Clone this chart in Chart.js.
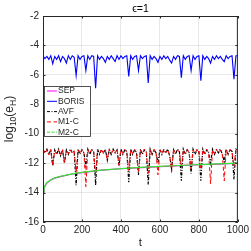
<!DOCTYPE html>
<html>
<head>
<meta charset="utf-8">
<script src="https://cdn.jsdelivr.net/npm/chart.js@4.4.0/dist/chart.umd.min.js"></script>
<style>
  html, body { margin: 0; padding: 0; background: #fff; }
  #wrap { width: 251px; height: 251px; }
</style>
</head>
<body>
<div id="wrap"><canvas id="chart" width="251" height="251"></canvas></div>
<script>
// ---- data ----
const tGrid = [0,10,20,30,40,50,60,70,80,90,100,110,120,130,140,150,160,170,180,190,
  200,210,220,230,240,250,260,270,280,290,300,310,320,330,340,350,360,370,380,390,
  400,410,420,430,440,450,460,470,480,490,500,510,520,530,540,550,560,570,580,590,
  600,610,620,630,640,650,660,670,680,690,700,710,720,730,740,750,760,770,780,790,
  800,810,820,830,840,850,860,870,880,890,900,910,920,930,940,950,960,970,980,990,1000];

const boris = [-4.7,-4.9,-4.75,-4.95,-4.7,-5.25,-4.75,-4.95,-4.7,-5.1,
  -4.75,-4.9,-5.2,-4.7,-4.95,-4.7,-4.8,-6.05,-4.7,-4.95,
  -4.75,-4.7,-5.7,-4.7,-4.95,-4.7,-4.75,-6.9,-4.7,-4.95,
  -4.75,-4.9,-5.15,-4.75,-4.95,-4.7,-4.9,-5.1,-4.7,-4.95,
  -4.7,-4.9,-4.75,-4.7,-6.1,-4.7,-4.95,-4.75,-4.7,-5.7,
  -4.7,-4.9,-4.75,-4.7,-6.55,-4.7,-4.95,-4.75,-4.9,-5.15,
  -4.75,-4.95,-4.7,-4.9,-4.75,-5.0,-5.2,-4.75,-4.95,-4.7,
  -4.75,-6.2,-4.7,-4.95,-4.75,-4.7,-5.7,-4.7,-4.95,-4.75,
  -4.7,-6.4,-4.7,-4.95,-4.75,-4.9,-5.2,-4.75,-4.95,-4.7,
  -4.9,-4.75,-4.95,-5.1,-4.7,-4.9,-4.75,-4.7,-6.3,-4.7,-4.7];

const avf = [-11.1,-11.3,-11.05,-11.4,-11.1,-12.2,-11.1,-11.4,-11.05,-11.5,
  -11.1,-12.0,-11.1,-11.4,-11.05,-11.3,-11.2,-13.5,-11.05,-11.4,
  -11.1,-11.3,-12.2,-11.05,-11.4,-11.1,-11.2,-13.5,-11.05,-11.4,
  -11.1,-11.3,-11.05,-11.8,-11.1,-11.4,-11.05,-11.3,-11.1,-12.2,
  -11.05,-11.4,-11.1,-11.2,-13.3,-11.05,-11.4,-11.1,-11.3,-12.8,
  -11.05,-11.4,-11.1,-11.2,-13.45,-11.05,-11.4,-11.1,-11.3,-12.0,
  -11.05,-11.4,-11.1,-11.3,-11.05,-11.5,-12.4,-11.1,-11.4,-11.05,
  -11.2,-13.2,-11.05,-11.4,-11.1,-11.3,-12.7,-11.05,-11.4,-11.1,
  -11.2,-13.2,-11.05,-11.4,-11.1,-11.3,-12.0,-11.05,-11.4,-11.1,
  -11.3,-11.05,-11.4,-11.9,-11.05,-11.4,-11.1,-11.2,-13.1,-11.05,-11.1];

const m1c = [-11.05,-11.35,-11.1,-11.45,-11.05,-12.15,-11.15,-11.35,-11.1,-11.45,
  -11.05,-11.95,-11.15,-11.35,-11.1,-11.3,-11.15,-12.7,-11.1,-11.35,
  -11.05,-11.3,-13.6,-11.1,-11.35,-11.05,-11.25,-12.8,-11.1,-11.35,
  -11.05,-11.35,-11.1,-11.75,-11.05,-11.35,-11.1,-11.3,-11.05,-12.15,
  -11.1,-11.35,-11.05,-11.25,-12.5,-11.1,-11.35,-11.05,-11.3,-12.6,
  -11.1,-11.35,-11.05,-11.25,-12.7,-11.1,-11.35,-11.05,-11.3,-12.8,
  -11.1,-11.35,-11.05,-11.3,-11.1,-11.45,-12.6,-11.05,-11.35,-11.1,
  -11.25,-12.3,-11.1,-11.35,-11.05,-11.3,-12.4,-11.1,-11.35,-11.05,
  -11.25,-12.4,-11.1,-11.35,-11.05,-11.3,-13.4,-11.1,-11.35,-11.05,
  -11.3,-11.1,-11.35,-13.2,-11.1,-11.35,-11.05,-11.25,-12.2,-11.1,-11.05];

const tDrift = [0,5,10,20,40,60,100,150,200,300,400,500,600,700,800,900,1000];
const sep = [-14.0,-13.75,-13.55,-13.35,-13.15,-13.02,-12.88,-12.74,-12.64,-12.48,-12.38,-12.3,-12.23,-12.17,-12.11,-12.06,-12.0];
const m2c = [-14.0,-13.72,-13.52,-13.33,-13.13,-13.0,-12.86,-12.73,-12.63,-12.47,-12.37,-12.29,-12.22,-12.16,-12.1,-12.05,-12.0];

const yTicks = [-16,-14,-12,-10,-8,-6,-4,-2];
const xTicks = [0,200,400,600,800,1000];

const legendNames = ['SEP','BORIS','AVF','M1-C','M2-C'];

// ---- helpers ----
function pts(xs, ys) {
    return xs.map((x, i) => ({ x: x, y: ys[i] }));
}

const FONT = '"Liberation Sans", Arial, sans-serif';
const AXIS = '#262626';

const styles = {
    'SEP':   { color: '#ff00ff', dash: [] },
    'BORIS': { color: '#0000ff', dash: [] },
    'AVF':   { color: '#000000', dash: [3, 1.5, 1, 1.5] },
    'M1-C':  { color: '#ff0000', dash: [4, 2.5] },
    'M2-C':  { color: '#33e633', dash: [3, 1.5] }
};

// ---- frame, ticks, titles, legend ----
const framePlugin = {
    id: 'frame',
    afterDraw(chart) {
        const ctx = chart.ctx;
        const a = chart.chartArea;
        const xs = chart.scales.x, ys = chart.scales.y;
        ctx.save();
        ctx.strokeStyle = AXIS;
        ctx.lineWidth = 1;
        ctx.strokeRect(a.left + 0.5, a.top + 0.5, a.right - a.left - 1, a.bottom - a.top - 1);

        // inward ticks on all sides
        ctx.beginPath();
        xTicks.forEach(v => {
            const px = Math.round(xs.getPixelForValue(v)) + 0.5;
            ctx.moveTo(px, a.bottom); ctx.lineTo(px, a.bottom - 2.5);
            ctx.moveTo(px, a.top); ctx.lineTo(px, a.top + 2.5);
        });
        yTicks.forEach(v => {
            const py = Math.round(ys.getPixelForValue(v)) + 0.5;
            ctx.moveTo(a.left, py); ctx.lineTo(a.left + 2.5, py);
            ctx.moveTo(a.right, py); ctx.lineTo(a.right - 2.5, py);
        });
        ctx.stroke();

        // title
        ctx.fillStyle = '#000';
        ctx.textAlign = 'center';
        ctx.textBaseline = 'middle';
        ctx.font = '10.5px ' + FONT;
        ctx.fillText('\u03f5=1', (a.left + a.right) / 2, 9);

        // x label
        ctx.fillStyle = AXIS;
        ctx.font = '11.5px ' + FONT;
        ctx.fillText('t', (a.left + a.right) / 2, 243);

        // y label with subscripts
        ctx.translate(9, (a.top + a.bottom) / 2);
        ctx.rotate(-Math.PI / 2);
        ctx.textBaseline = 'alphabetic';
        const parts = [['log', 12, 0], ['10', 8.5, 3], ['(e', 12, 0], ['H', 8.5, 3], [')', 12, 0]];
        let total = 0;
        parts.forEach(p => { ctx.font = p[1] + 'px ' + FONT; total += ctx.measureText(p[0]).width; });
        let cx = -total / 2;
        ctx.textAlign = 'left';
        parts.forEach(p => {
            ctx.font = p[1] + 'px ' + FONT;
            ctx.fillText(p[0], cx, 4 + p[2]);
            cx += ctx.measureText(p[0]).width;
        });
        ctx.restore();

        // legend box
        ctx.save();
        const bx = a.left + 1, by = 86, bw = 47, bh = 51;
        ctx.fillStyle = '#fff';
        ctx.fillRect(bx, by, bw, bh);
        ctx.strokeStyle = AXIS;
        ctx.lineWidth = 0.8;
        ctx.strokeRect(bx + 0.5, by + 0.5, bw - 1, bh - 1);
        ctx.font = '8.5px ' + FONT;
        ctx.textAlign = 'left';
        ctx.textBaseline = 'middle';
        legendNames.forEach((name, i) => {
            const y = by + 5 + i * 10.3;
            const s = styles[name];
            ctx.strokeStyle = s.color;
            ctx.lineWidth = 1;
            ctx.setLineDash(s.dash);
            ctx.beginPath();
            ctx.moveTo(bx + 3, y); ctx.lineTo(bx + 13, y);
            ctx.stroke();
            ctx.setLineDash([]);
            ctx.fillStyle = AXIS;
            ctx.fillText(name, bx + 14, y);
        });
        ctx.restore();
    }
};

function series(label, data, width, plotDash) {
    return {
        label: label,
        data: data,
        borderColor: styles[label].color,
        borderWidth: width,
        borderDash: plotDash,
        pointRadius: 0,
        tension: 0,
        fill: false
    };
}

// dataset 0 is painted last (on top), so list them top-first
new Chart(document.getElementById('chart'), {
    type: 'line',
    data: {
        datasets: [
            series('M2-C', pts(tDrift, m2c), 1.2, []),
            series('M1-C', pts(tGrid, m1c), 1, styles['M1-C'].dash),
            series('AVF', pts(tGrid, avf), 1.2, styles['AVF'].dash),
            series('BORIS', pts(tGrid, boris), 1.1, []),
            series('SEP', pts(tDrift, sep), 1.2, [])
        ]
    },
    options: {
        responsive: false,
        animation: false,
        events: [],
        layout: { padding: { top: 16, right: 13, left: 0, bottom: 0 } },
        plugins: { legend: { display: false }, tooltip: { enabled: false }, title: { display: false } },
        scales: {
            x: {
                type: 'linear',
                min: 0, max: 1000,
                afterFit(scale) { scale.height = 29; },
                afterBuildTicks(scale) { scale.ticks = xTicks.map(v => ({ value: v })); },
                ticks: {
                    color: AXIS, font: { family: FONT, size: 10 }, padding: 2, maxRotation: 0,
                    callback: v => String(v)
                },
                grid: { color: 'rgba(0,0,0,0.09)', drawTicks: false },
                border: { display: false }
            },
            y: {
                type: 'linear',
                min: -16, max: -2,
                afterFit(scale) { scale.width = 43; },
                afterBuildTicks(scale) { scale.ticks = yTicks.map(v => ({ value: v })); },
                ticks: { color: AXIS, font: { family: FONT, size: 10 }, padding: 4, callback: v => String(v) },
                grid: { color: 'rgba(0,0,0,0.09)', drawTicks: false },
                border: { display: false }
            }
        }
    },
    plugins: [framePlugin]
});
</script>
</body>
</html>
